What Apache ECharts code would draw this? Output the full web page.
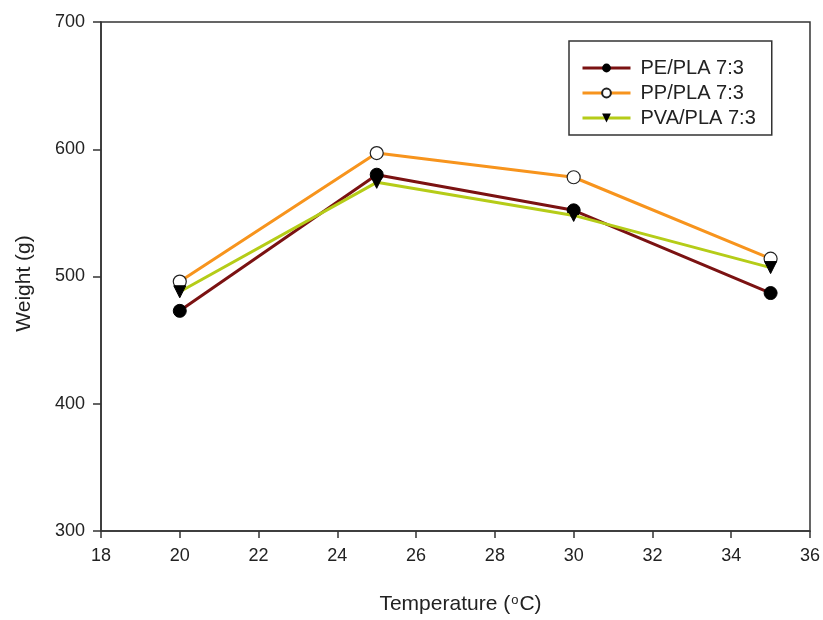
<!DOCTYPE html>
<html>
<head>
<meta charset="utf-8">
<script src="https://cdn.jsdelivr.net/npm/echarts@6/dist/echarts.min.js"></script>
<style>html,body{margin:0;padding:0;background:#fff}#c{width:823px;height:620px}</style>
</head>
<body>
<div id="c"></div>
<script>
var temperatures = [20, 25, 30, 35];
var pePla = [473, 580, 552, 487];
var ppPla = [496, 597, 578, 514];
var pvaPla = [488, 574, 548, 507];
var seriesNames = ['PE/PLA 7:3', 'PP/PLA 7:3', 'PVA/PLA 7:3'];
var xTicks = {min: 18, max: 36, interval: 2};
var yTicks = {min: 300, max: 700, interval: 100};

function pairs(xs, ys) { return xs.map(function (x, i) { return [x, ys[i]]; }); }

var font = 'Liberation Sans, Arial, sans-serif';
var chart = echarts.init(document.getElementById('c'));
chart.setOption({
  backgroundColor: '#fff',
  animation: false,
  grid: {left: 101, right: 13, top: 22, bottom: 89, show: true, borderColor: '#333', borderWidth: 1.5, backgroundColor: 'transparent'},
  legend: {
    orient: 'vertical', left: 569, top: 41,
    itemWidth: 48, itemHeight: 11, itemGap: 5,
    padding: [17, 16, 7, 12],
    borderColor: '#333', borderWidth: 1.5,
    lineStyle: {width: 3},
    textStyle: {fontFamily: font, fontSize: 20, color: '#222', padding: [0, 0, 0, 5], lineHeight: 20},
    data: seriesNames
  },
  xAxis: {
    type: 'value', min: xTicks.min, max: xTicks.max, interval: xTicks.interval,
    axisLine: {show: true, lineStyle: {color: '#333', width: 1.5}},
    axisTick: {show: true, inside: false, length: 7, lineStyle: {color: '#333', width: 1.5}},
    axisLabel: {fontFamily: font, fontSize: 18, color: '#222', margin: 16},
    splitLine: {show: false},
    name: 'Temperature ({sup|o}C)',
    nameLocation: 'middle', nameGap: 63,
    nameTextStyle: {fontFamily: font, fontSize: 21, color: '#222', padding: [0, 0, 0, 10],
      rich: {sup: {fontFamily: font, fontSize: 13, color: '#222', verticalAlign: 'top', padding: [0, 1, 0, 1]}}}
  },
  yAxis: {
    type: 'value', min: yTicks.min, max: yTicks.max, interval: yTicks.interval,
    axisLine: {show: true, lineStyle: {color: '#333', width: 1.5}},
    axisTick: {show: true, inside: false, length: 8, lineStyle: {color: '#333', width: 1.5}},
    axisLabel: {fontFamily: font, fontSize: 18, color: '#222', margin: 16},
    splitLine: {show: false},
    name: 'Weight (g)', nameLocation: 'middle', nameGap: 66, nameRotate: 90,
    nameTextStyle: {fontFamily: font, fontSize: 21, color: '#222', padding: [0, 14, 0, 0]}
  },
  series: [
    {name: seriesNames[0], type: 'line', data: pairs(temperatures, pePla), z: 2,
      lineStyle: {color: '#7b1212', width: 3}, itemStyle: {color: '#000', borderColor: '#000'},
      color: '#7b1212',
      symbol: 'circle', symbolSize: 13},
    {name: seriesNames[1], type: 'line', data: pairs(temperatures, ppPla), z: 3,
      lineStyle: {color: '#f7941d', width: 3}, itemStyle: {color: '#fff', borderColor: '#222', borderWidth: 1.2},
      color: '#f7941d',
      symbol: 'circle', symbolSize: 13},
    {name: seriesNames[2], type: 'line', data: pairs(temperatures, pvaPla), z: 4,
      lineStyle: {color: '#b5cc18', width: 3}, itemStyle: {color: '#000', borderColor: '#000'},
      color: '#b5cc18',
      symbol: 'triangle', symbolRotate: 180, symbolSize: 12}
  ]
});
</script>
</body>
</html>
